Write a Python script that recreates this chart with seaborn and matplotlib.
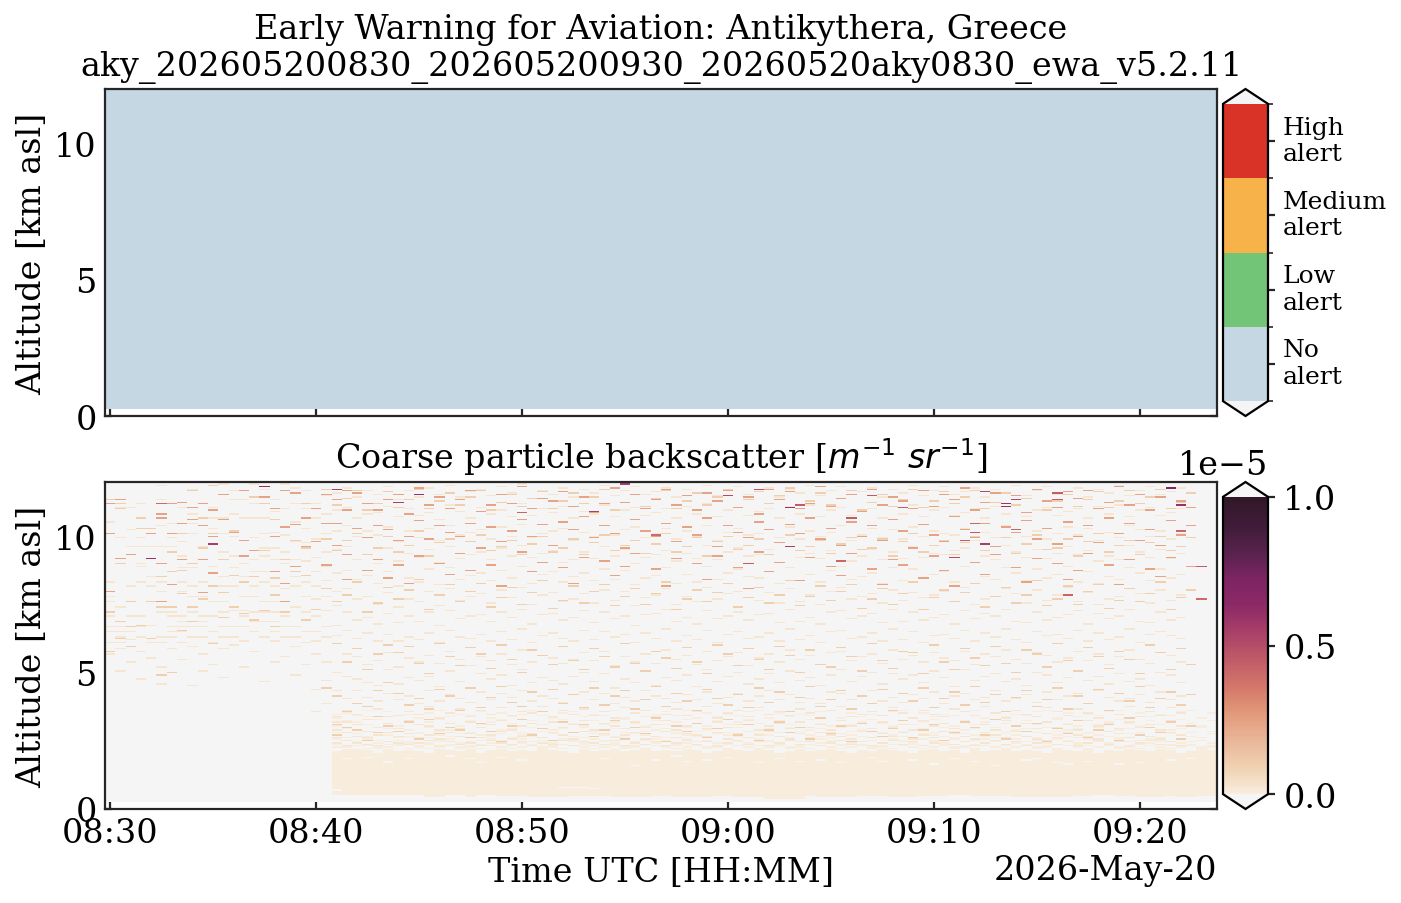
#Early warning curtain plots: alert levels and coarse particle backscatter
#The speckle lists are hand estimates from zooms of the picture (row index = 48 m bins).
#Peaks and the first 22 columns follow the picture most closely. For the other columns the
#density by altitude is matched, but single positions are approximate, not read cell by cell.

#Dependencies
import numpy as np
import pandas as pd
import matplotlib
matplotlib.use("Agg")
import matplotlib.pyplot as plt
from matplotlib.colors import LinearSegmentedColormap, ListedColormap
from matplotlib.transforms import ScaledTranslation
import seaborn as sns

n_rows = 250
n_cols = 108
first_row = 5 #nothing is measured below this bin

tick_labels = ["08:30", "08:40", "08:50", "09:00", "09:10", "09:20"]
tick_minutes = [0, 10, 20, 30, 40, 50]
alert_labels = ["No\nalert", "Low\nalert", "Medium\nalert", "High\nalert"]
alert_colors = ["#c5d7e3", "#72c476", "#f7b24a", "#d93226"]

#Values of the speckle classes, in m-1 sr-1
faint_value = 0.025e-5
light_value = 0.1e-5
mid_value = 0.24e-5

#Aerosol layer seen from column 22 on: top and bottom bin per column
base_start = 22
base_top = [44, 46, 46, 45, 43, 46, 44, 45, 44, 43, 46, 45, 44, 46, 43, 45, 46, 44, 45, 44, 46, 45, 44, 43,
            46, 44, 45, 46, 44, 45, 46, 44, 45, 44, 46, 45, 43, 44, 46, 45, 44, 46, 45, 43, 44, 46, 44, 45,
            46, 44, 43, 45, 44, 46, 45, 44, 43, 45, 46, 44, 45, 43, 46, 44, 45, 46, 44, 45, 44, 43, 46, 45,
            44, 46, 43, 45, 44, 46, 45, 44, 46, 45, 43, 44, 46, 45]
base_bottom = [11, 11, 11, 11, 11, 11, 11, 11, 11, 9, 9, 11, 11, 9, 11, 11, 10, 10, 10, 9, 9, 9, 9, 10,
               10, 10, 10, 9, 9, 9, 9, 10, 10, 9, 9, 9, 9, 10, 10, 9, 9, 9, 8, 8, 8, 8, 10, 9,
               9, 9, 9, 10, 10, 10, 9, 9, 9, 10, 10, 10, 11, 11, 10, 10, 10, 10, 9, 9, 9, 9, 9, 9,
               10, 10, 11, 11, 10, 10, 9, 9, 9, 10, 9, 9, 10, 10]
#Holes in the layer: column, bin
base_gaps = [(22, 14), (23, 38), (25, 39), (27, 36), (27, 35), (29, 38), (33, 40), (35, 38), (36, 35), (38, 39),
             (40, 37), (44, 16), (45, 16), (46, 16), (47, 15), (48, 38), (51, 33), (53, 37), (55, 40), (56, 36),
             (58, 37), (60, 39), (63, 35), (65, 38), (67, 36), (69, 37), (71, 35), (74, 39), (75, 36), (78, 37),
             (80, 34), (82, 38), (84, 36), (86, 33), (89, 37), (90, 38), (92, 35), (93, 34), (95, 36), (98, 34),
             (100, 35), (103, 37), (105, 38)]

#Dense pale returns just above the layer, from column 22 on
fringe_rows = [
    [47, 49, 53, 58, 63, 69, 72], [47, 48, 52, 54, 61, 67, 73], [48, 50, 51, 57, 60, 66, 71], [46, 48, 53, 55, 59, 64, 70, 75],
    [46, 47, 50, 52, 58, 62, 68], [47, 49, 51, 56, 61, 65, 74], [48, 49, 52, 54, 59, 63, 71], [46, 50, 51, 55, 60, 67, 72],
    [47, 48, 53, 57, 58, 64, 69], [46, 49, 50, 54, 62, 66, 73], [47, 51, 52, 56, 59, 68, 75], [48, 49, 53, 55, 60, 65, 70],
    [46, 47, 50, 57, 61, 63, 72], [47, 48, 51, 54, 58, 67, 71], [46, 49, 52, 56, 62, 64, 74], [48, 50, 53, 55, 59, 66, 69],
    [47, 51, 52, 57, 60, 68, 73], [46, 48, 49, 54, 61, 65, 70], [47, 50, 53, 56, 58, 63, 72], [48, 49, 51, 55, 62, 67, 75],
    [46, 47, 52, 54, 59, 64, 71], [47, 48, 50, 57, 60, 66, 69], [46, 49, 53, 56, 61, 68, 73], [48, 51, 52, 55, 58, 65, 74],
    [47, 49, 50, 54, 62, 63, 70], [46, 48, 53, 57, 59, 67, 72], [47, 51, 52, 56, 60, 64, 71], [48, 49, 50, 55, 61, 66, 75],
    [46, 47, 53, 54, 58, 68, 69], [47, 48, 51, 57, 62, 65, 73], [46, 49, 52, 56, 59, 63, 70], [48, 50, 53, 55, 60, 67, 72],
    [47, 51, 52, 54, 61, 64, 74], [46, 48, 49, 57, 58, 66, 71], [47, 50, 53, 56, 62, 68, 75], [48, 49, 51, 55, 59, 65, 69],
    [46, 47, 52, 54, 60, 63, 73], [47, 48, 50, 57, 61, 67, 70], [46, 49, 53, 56, 58, 64, 72], [48, 51, 52, 55, 62, 66, 71],
    [47, 49, 50, 54, 59, 68, 74], [46, 48, 53, 57, 60, 65, 75], [47, 51, 52, 56, 61, 63, 69], [48, 49, 50, 55, 58, 67, 73],
    [46, 47, 53, 54, 62, 64, 70], [47, 48, 51, 57, 59, 66, 72], [46, 49, 52, 56, 60, 68, 71], [48, 50, 53, 55, 61, 65, 74],
    [47, 51, 52, 54, 58, 63, 75], [46, 48, 49, 57, 62, 67, 69], [47, 50, 53, 56, 59, 64, 73], [48, 49, 51, 55, 60, 66, 70],
    [46, 47, 52, 54, 61, 68, 72], [47, 48, 50, 57, 58, 65, 71], [46, 49, 53, 56, 62, 63, 74], [48, 51, 52, 55, 59, 67, 75],
    [47, 49, 50, 54, 60, 64, 69], [46, 48, 53, 57, 61, 66, 73], [47, 51, 52, 56, 58, 68, 70], [48, 49, 50, 55, 62, 65, 72],
    [46, 47, 53, 54, 59, 63, 71], [47, 48, 51, 57, 60, 67, 74], [46, 49, 52, 56, 61, 64, 75], [48, 50, 53, 55, 58, 66, 69],
    [47, 51, 52, 54, 62, 68, 73], [46, 48, 49, 57, 59, 65, 70], [47, 50, 53, 56, 60, 63, 72], [48, 49, 51, 55, 61, 67, 71],
    [46, 47, 52, 54, 58, 64, 74], [47, 48, 50, 57, 62, 66, 75], [46, 49, 53, 56, 59, 68, 69], [48, 51, 52, 55, 60, 65, 73],
    [47, 49, 50, 54, 61, 63, 70], [46, 48, 53, 57, 58, 67, 72], [47, 51, 52, 56, 62, 64, 71], [48, 49, 50, 55, 59, 66, 74],
    [46, 47, 53, 54, 60, 68, 75], [47, 48, 51, 57, 61, 65, 69], [46, 49, 52, 56, 58, 63, 73], [48, 50, 53, 55, 62, 67, 70],
    [47, 51, 52, 54, 59, 64, 72], [46, 48, 49, 57, 60, 66, 71], [47, 50, 53, 56, 61, 68, 74], [48, 49, 51, 55, 58, 65, 75],
    [46, 47, 52, 54, 62, 63, 69], [47, 48, 50, 57, 59, 67, 73],
]

faint_rows = [
    [219, 173, 162, 158, 150, 147, 139, 135, 127, 118], [230, 207, 154, 139, 135, 131, 127, 122, 105], [230, 213, 200, 170, 147, 139, 135, 129, 112],
    [233, 207, 200, 187, 185, 173, 147, 139, 131, 120, 99], [214, 200, 177, 170, 158, 140, 127, 115], [247, 236, 216, 200, 173, 166, 150, 127, 131, 108, 95],
    [218, 200, 207, 150, 147, 139, 135, 131, 122], [230, 204, 193, 184, 173, 166, 147, 143, 139, 135, 127, 114], [244, 225, 218, 210, 184, 170, 162, 150, 139, 131, 124, 94],
    [233, 216, 200, 173, 162, 147, 143, 139, 131, 118, 105], [230, 222, 214, 185, 170, 158, 147, 135, 127, 110], [248, 222, 210, 196, 177, 170, 158, 150, 139, 131, 122, 100],
    [243, 236, 225, 208, 193, 184, 170, 151, 139, 131, 125], [236, 222, 205, 187, 177, 162, 151, 147, 139, 128, 108], [248, 233, 222, 207, 190, 181, 170, 162, 150, 143, 135, 120],
    [244, 222, 210, 199, 193, 181, 173, 158, 150, 143, 131, 97], [236, 227, 211, 199, 190, 170, 158, 150, 143, 135, 128, 112], [248, 229, 209, 196, 187, 168, 158, 147, 139, 131, 116],
    [245, 233, 219, 204, 190, 177, 170, 154, 139, 131, 124, 102], [243, 229, 214, 203, 189, 173, 162, 150, 135, 127, 110], [233, 222, 206, 192, 181, 170, 160, 147, 135, 128, 118, 91, 74],
    [239, 225, 210, 196, 185, 174, 162, 151, 139, 131, 112, 98, 80],
    [241, 228, 212, 198, 180, 166, 155, 140, 132, 104, 90, 70, 66, 60, 54, 50], [245, 230, 216, 200, 182, 168, 150, 136, 118, 101, 84, 75, 66, 58, 52, 48], [238, 222, 208, 190, 175, 160, 144, 130, 116, 99, 90, 72, 64, 55, 50],
    [243, 225, 212, 194, 178, 162, 146, 134, 110, 96, 85, 68, 59, 54, 49], [240, 226, 209, 187, 172, 156, 141, 128, 113, 94, 82, 76, 62, 56, 48], [246, 231, 215, 199, 181, 165, 149, 133, 119, 106, 88, 70, 65, 58, 51],
    [236, 223, 204, 189, 170, 154, 142, 128, 108, 95, 83, 71, 61, 55, 50], [243, 229, 212, 195, 176, 160, 147, 131, 115, 100, 86, 74, 67, 57, 49], [238, 224, 207, 192, 173, 158, 143, 129, 112, 98, 80, 72, 64, 54, 50],
    [245, 226, 214, 198, 183, 166, 150, 134, 117, 101, 90, 78, 63, 56, 52], [240, 221, 205, 188, 171, 155, 140, 127, 111, 93, 82, 69, 60, 53, 48], [247, 232, 216, 200, 184, 168, 151, 136, 120, 105, 87, 73, 65, 58, 51],
    [238, 227, 209, 191, 175, 159, 145, 131, 114, 97, 84, 76, 61, 55, 49], [242, 222, 211, 194, 178, 162, 147, 130, 109, 92, 81, 70, 66, 57, 50], [244, 230, 213, 196, 180, 164, 148, 133, 116, 103, 89, 75, 62, 54, 48],
    [239, 225, 206, 190, 174, 157, 143, 128, 113, 99, 83, 72, 64, 56, 52], [246, 228, 215, 199, 182, 167, 150, 135, 118, 102, 88, 77, 67, 59, 50], [241, 223, 208, 193, 176, 161, 146, 129, 110, 94, 85, 71, 60, 53, 49],
    [248, 233, 217, 201, 185, 169, 152, 137, 121, 106, 90, 74, 63, 55, 51], [237, 224, 207, 192, 172, 156, 141, 127, 112, 96, 82, 73, 65, 57, 48], [243, 229, 210, 195, 179, 163, 148, 132, 117, 100, 86, 78, 61, 54, 50],
    [240, 226, 212, 197, 181, 165, 149, 134, 115, 98, 84, 70, 66, 58, 49], [245, 231, 214, 188, 173, 158, 144, 130, 111, 95, 81, 75, 62, 56, 52], [238, 222, 205, 190, 177, 160, 146, 128, 114, 101, 87, 72, 64, 53, 48],
    [244, 227, 211, 196, 180, 164, 151, 136, 119, 104, 89, 76, 67, 59, 51], [241, 225, 208, 191, 174, 157, 142, 129, 113, 97, 83, 71, 60, 55, 50], [247, 232, 216, 200, 183, 167, 150, 135, 120, 103, 88, 74, 65, 57, 49],
    [239, 223, 209, 193, 175, 159, 145, 131, 109, 92, 80, 69, 63, 54, 52], [243, 228, 213, 198, 182, 166, 147, 133, 116, 99, 85, 77, 61, 56, 48], [246, 230, 215, 187, 171, 155, 140, 127, 112, 96, 82, 73, 66, 58, 50],
    [240, 224, 207, 192, 176, 161, 148, 134, 118, 105, 90, 75, 62, 53, 49], [242, 226, 210, 194, 178, 163, 149, 130, 111, 94, 86, 70, 64, 55, 51], [245, 229, 214, 197, 184, 168, 152, 137, 121, 100, 84, 72, 67, 59, 48],
    [238, 222, 206, 189, 172, 156, 143, 128, 114, 98, 81, 76, 60, 54, 50], [244, 231, 212, 195, 179, 162, 146, 132, 117, 102, 87, 71, 63, 57, 52], [241, 225, 208, 191, 173, 158, 141, 129, 110, 93, 83, 74, 65, 56, 49],
    [247, 233, 216, 201, 185, 169, 151, 136, 120, 106, 89, 78, 61, 55, 51], [239, 223, 205, 190, 175, 160, 145, 127, 113, 97, 80, 69, 66, 58, 48], [243, 228, 211, 196, 180, 164, 147, 133, 116, 101, 85, 73, 62, 53, 50],
    [246, 230, 214, 199, 183, 166, 150, 135, 119, 104, 88, 75, 64, 57, 52], [240, 224, 209, 193, 177, 161, 144, 130, 109, 95, 82, 70, 67, 54, 49], [242, 227, 210, 194, 176, 159, 148, 131, 115, 99, 86, 77, 60, 56, 51],
    [245, 229, 213, 198, 181, 165, 149, 134, 118, 103, 90, 72, 63, 59, 48], [238, 222, 207, 188, 172, 157, 142, 128, 112, 96, 83, 74, 65, 55, 50], [244, 231, 215, 200, 184, 168, 152, 137, 121, 105, 87, 71, 61, 53, 52],
    [241, 225, 206, 192, 174, 158, 143, 129, 114, 98, 81, 76, 66, 57, 49], [247, 232, 212, 195, 179, 163, 146, 132, 117, 100, 84, 73, 62, 54, 51], [239, 223, 208, 191, 173, 156, 141, 127, 110, 94, 80, 69, 64, 58, 48],
    [243, 228, 211, 197, 182, 166, 150, 135, 119, 102, 89, 75, 60, 56, 50], [246, 230, 216, 201, 185, 169, 151, 136, 120, 106, 88, 78, 67, 55, 52], [240, 224, 205, 189, 175, 160, 145, 130, 113, 97, 83, 70, 63, 53, 49],
    [242, 227, 209, 193, 177, 162, 147, 131, 116, 101, 86, 72, 65, 59, 51], [245, 229, 214, 198, 180, 164, 149, 134, 118, 104, 90, 74, 61, 54, 48], [238, 222, 207, 190, 172, 157, 142, 128, 111, 95, 82, 71, 66, 57, 50],
    [244, 231, 213, 196, 184, 167, 152, 137, 121, 103, 85, 77, 62, 55, 52], [241, 225, 206, 191, 174, 159, 143, 129, 114, 99, 81, 73, 64, 58, 49], [247, 232, 215, 200, 183, 165, 150, 135, 117, 102, 87, 69, 60, 53, 51],
    [239, 223, 208, 192, 176, 161, 144, 127, 112, 96, 84, 75, 67, 56, 48], [243, 228, 212, 195, 179, 163, 146, 132, 119, 105, 89, 72, 63, 54, 50], [246, 230, 210, 194, 181, 166, 148, 133, 115, 100, 80, 70, 65, 59, 52],
    [240, 224, 209, 197, 173, 158, 141, 130, 113, 93, 86, 76, 61, 57, 49], [242, 226, 214, 199, 185, 169, 151, 136, 120, 106, 88, 74, 66, 55, 51], [245, 229, 205, 188, 172, 156, 145, 128, 110, 98, 83, 71, 62, 53, 48],
    [238, 222, 211, 193, 177, 160, 149, 134, 118, 101, 85, 78, 64, 58, 50], [244, 231, 207, 190, 175, 162, 147, 131, 116, 103, 90, 73, 60, 56, 52], [241, 225, 216, 201, 184, 168, 152, 137, 121, 97, 82, 69, 67, 54, 49],
    [247, 232, 213, 196, 180, 164, 143, 129, 114, 99, 84, 75, 63, 59, 51], [239, 223, 208, 192, 174, 157, 142, 127, 111, 94, 87, 72, 65, 55, 48], [243, 228, 212, 198, 183, 167, 150, 135, 119, 104, 81, 70, 61, 53, 50],
    [246, 230, 206, 191, 176, 159, 144, 132, 117, 102, 89, 77, 66, 57, 52], [240, 224, 210, 195, 179, 163, 146, 133, 112, 96, 83, 74, 62, 54, 49], [242, 227, 215, 200, 185, 169, 148, 130, 115, 100, 86, 71, 64, 58, 51],
    [245, 229, 209, 194, 173, 158, 151, 136, 120, 105, 88, 76, 60, 56, 48], [238, 222, 214, 197, 181, 165, 141, 128, 113, 98, 80, 73, 67, 55, 50], [244, 231, 205, 189, 172, 156, 149, 134, 118, 101, 90, 69, 63, 53, 52],
    [241, 225, 211, 193, 177, 160, 145, 129, 110, 95, 85, 75, 65, 59, 49], [247, 232, 207, 190, 175, 162, 147, 131, 116, 103, 82, 72, 61, 57, 51], [239, 223, 216, 201, 184, 168, 152, 137, 121, 97, 84, 78, 66, 54, 48],
    [243, 228, 213, 196, 180, 164, 143, 127, 114, 99, 87, 70, 62, 56, 50], [246, 230, 208, 192, 174, 157, 142, 133, 111, 94, 81, 74, 64, 55, 52], [240, 224, 212, 198, 183, 167, 150, 135, 119, 104, 89, 71, 60, 53, 49],
    [242, 226, 206, 191, 176, 159, 144, 132, 117, 102, 83, 77, 67, 58, 51], [245, 229, 210, 195, 179, 163, 146, 130, 112, 96, 86, 73, 63, 56, 48],
]

light_rows = [
    [236, 210, 166, 150, 120], [233, 187, 229, 143, 130], [194, 158, 139, 124], [222, 214, 140], [214, 158, 130], [187, 177, 154, 102],
    [196, 181, 154, 104], [210, 182, 164, 136], [243, 187, 154, 143], [222, 199, 160], [247, 210, 170, 126], [190, 165, 146],
    [212, 178, 154], [205, 173, 149], [238, 177, 144], [233, 197, 151], [221, 176, 163, 139], [243, 190, 150], [241, 205, 181], [233, 199, 178, 144], [229, 204, 152], [244, 206, 168, 92],
    [232, 197, 158, 126, 86, 64, 56], [237, 205, 163, 112, 74, 62], [243, 210, 173, 122, 80, 60], [228, 194, 150, 106, 78, 52], [233, 199, 157, 118, 90, 70, 58], [242, 208, 169, 125, 96, 63],
    [230, 196, 160, 119, 88, 59], [236, 201, 167, 124, 79, 66], [244, 212, 175, 111, 84, 53], [229, 193, 152, 103, 76, 68], [235, 203, 163, 126, 91, 57], [241, 206, 171, 116, 86, 62],
    [232, 195, 158, 109, 75, 60], [238, 204, 166, 123, 92, 54], [243, 209, 172, 118, 77, 65], [228, 197, 154, 107, 85, 59], [234, 200, 161, 125, 93, 51], [240, 205, 169, 114, 81, 63],
    [231, 194, 156, 104, 78, 68], [237, 202, 165, 121, 89, 56], [242, 208, 174, 117, 74, 61], [229, 196, 153, 110, 91, 52], [235, 199, 159, 124, 80, 66], [241, 206, 170, 113, 87, 58],
    [233, 194, 157, 106, 77, 64], [238, 203, 166, 122, 92, 55], [244, 209, 171, 116, 79, 60], [228, 197, 155, 108, 86, 67], [234, 201, 162, 126, 90, 53], [240, 205, 168, 111, 76, 62],
    [231, 195, 156, 105, 83, 57], [237, 202, 164, 120, 93, 69], [243, 210, 173, 115, 78, 51], [229, 196, 152, 107, 88, 63], [235, 200, 160, 123, 82, 59], [241, 207, 167, 112, 75, 65],
    [232, 193, 158, 103, 91, 54], [238, 204, 165, 125, 84, 61], [244, 208, 172, 118, 79, 68], [230, 198, 154, 109, 87, 56], [236, 201, 161, 122, 77, 64], [242, 206, 169, 114, 92, 52],
    [233, 194, 157, 106, 81, 60], [239, 203, 163, 124, 89, 66], [245, 209, 174, 117, 74, 58], [229, 197, 155, 104, 85, 62], [235, 200, 162, 121, 93, 53], [241, 205, 170, 110, 78, 69],
    [232, 195, 159, 108, 83, 57], [237, 202, 166, 123, 90, 63], [243, 207, 171, 116, 76, 51], [228, 198, 153, 105, 86, 65], [234, 199, 160, 126, 80, 59], [240, 206, 168, 113, 91, 55],
    [231, 193, 156, 107, 75, 61], [236, 204, 164, 120, 88, 67], [244, 210, 173, 119, 82, 54], [230, 196, 152, 103, 92, 60], [235, 201, 161, 125, 77, 64], [242, 205, 167, 112, 84, 52],
    [233, 194, 158, 106, 89, 58], [238, 203, 165, 122, 79, 66], [243, 208, 172, 115, 93, 62], [229, 197, 154, 109, 81, 56], [234, 200, 162, 124, 87, 68], [241, 207, 169, 111, 74, 53],
    [232, 195, 157, 104, 85, 63], [237, 202, 163, 121, 90, 59], [244, 209, 174, 118, 78, 65], [228, 198, 155, 108, 83, 51], [235, 199, 160, 126, 92, 61], [240, 206, 170, 113, 76, 57],
    [231, 193, 156, 105, 86, 67], [236, 204, 166, 123, 80, 54], [242, 210, 171, 116, 91, 60], [230, 196, 153, 107, 75, 64], [235, 201, 159, 120, 88, 52], [243, 205, 168, 114, 82, 69],
    [233, 194, 158, 103, 93, 56], [238, 203, 164, 125, 77, 62], [244, 208, 173, 119, 84, 58], [229, 197, 152, 106, 89, 66], [234, 200, 161, 122, 79, 53], [241, 207, 167, 110, 87, 63],
]

mid_rows = [
    [233, 210, 166], [236, 191], [194], [], [210], [222, 225, 187, 158], [233, 210, 171],
    [234, 218, 190], [230, 221], [233, 216, 190, 165], [228, 208, 180], [240, 221], [211],
    [243, 205, 193], [197], [238], [229, 208, 181], [243, 215, 172, 158], [241, 217, 185], [222, 200], [229, 204], [240, 218, 186],
    [236, 218, 201], [243, 228, 194, 175], [241, 214], [233, 207, 182], [228, 216, 190], [236, 213, 176],
    [240, 205, 186], [225, 208, 172], [245, 220, 193], [232, 206], [238, 216, 187], [229, 211, 179],
    [236, 208, 195], [243, 218, 182], [227, 199], [232, 215, 186], [240, 204, 170], [233, 212],
    [246, 221, 196], [229, 208, 181], [237, 217, 188], [235, 201], [242, 219, 184], [231, 213, 172],
    [238, 223, 192], [226, 207], [233, 216, 189], [245, 210, 178], [234, 199, 185], [240, 221, 195],
    [229, 212], [236, 208, 183], [244, 218, 170], [232, 204, 191], [239, 215], [228, 209, 187],
    [241, 222, 175], [235, 200, 193], [243, 216], [230, 211, 184], [238, 207, 168], [225, 219, 196],
    [244, 213, 181], [236, 203, 188], [242, 217], [229, 210, 174], [233, 222, 192], [246, 206],
    [231, 214, 185], [237, 201, 178], [240, 219, 195], [227, 208], [244, 216, 183], [232, 205, 171],
    [238, 221, 190], [235, 212, 186], [229, 199], [243, 217, 176], [231, 209, 193], [240, 204, 182],
    [236, 223, 170], [245, 213], [228, 207, 188], [234, 218, 179], [241, 200, 194], [233, 215],
    [239, 211, 184], [226, 220, 173], [244, 206, 191], [235, 214], [230, 202, 187], [242, 219, 175],
    [237, 208, 182], [243, 216, 195], [229, 203], [234, 222, 186], [246, 210, 171], [232, 218, 190],
    [240, 205], [228, 213, 183], [238, 201, 177], [245, 220, 192], [235, 209], [230, 216, 185],
]

#Strongest single returns: column, bin, value
peak_specks = [(15, 246, 0.62e-5), (4, 191, 0.6e-5), (22, 244, 0.55e-5), (5, 233, 0.4e-5), (30, 240, 0.6e-5),
               (28, 234, 0.55e-5), (10, 202, 0.55e-5), (50, 248, 0.55e-5), (47, 227, 0.55e-5), (40, 226, 0.42e-5),
               (63, 244, 0.5e-5), (62, 249, 0.45e-5), (60, 239, 0.5e-5), (66, 230, 0.6e-5), (67, 232, 0.45e-5),
               (66, 200, 0.55e-5), (62, 187, 0.45e-5), (53, 209, 0.4e-5), (72, 222, 0.45e-5), (71, 189, 0.42e-5),
               (74, 239, 0.45e-5), (77, 230, 0.45e-5), (84, 218, 0.42e-5), (84, 211, 0.45e-5), (83, 205, 0.45e-5),
               (82, 192, 0.5e-5), (85, 202, 0.55e-5), (85, 242, 0.5e-5), (88, 236, 0.5e-5), (87, 233, 0.6e-5),
               (87, 231, 0.6e-5), (88, 213, 0.42e-5), (92, 241, 0.45e-5), (92, 236, 0.45e-5), (103, 245, 0.7e-5),
               (104, 232, 0.6e-5), (104, 212, 0.42e-5), (106, 185, 0.45e-5), (93, 163, 0.42e-5), (106, 160, 0.4e-5)]

#Colours of the backscatter scale, from the colour bar
backscatter_colors = ["#f8ecdc", "#f0d0b0", "#e9b598", "#e29878", "#d4766a", "#bf5a68",
                      "#a94068", "#8c2a66", "#7d2463", "#57224c", "#3f1c38", "#301828"]

#Building the backscatter curtain
backscatter = np.full((n_rows, n_cols), -1.0)
for col, (top, bottom) in enumerate(zip(base_top, base_bottom), start=base_start):
    backscatter[bottom:top, col] = 0.0
for col, rows in enumerate(fringe_rows, start=base_start):
    backscatter[rows, col] = 0.0
for tier, value in [(faint_rows, faint_value), (light_rows, light_value), (mid_rows, mid_value)]:
    for col, rows in enumerate(tier):
        backscatter[rows, col] = value
for col, row in base_gaps:
    backscatter[row, col] = -1.0
for col, row, value in peak_specks:
    backscatter[row, col] = value
backscatter[:first_row, :] = np.nan
backscatter_df = pd.DataFrame(backscatter)

#Alert curtain: no alert anywhere
alerts = np.zeros((n_rows, n_cols))
alerts[:first_row, :] = np.nan
alerts_df = pd.DataFrame(alerts)

sns.set_style("ticks", {"font.family": "serif", "font.serif": ["DejaVu Serif"],
                        "axes.edgecolor": "#262626", "xtick.color": "#262626", "ytick.color": "#262626",
                        "text.color": "black", "axes.labelcolor": "black"})
plt.rcParams["mathtext.fontset"] = "dejavusans"

px_w, px_h = 1401, 904
fig = plt.figure(figsize=(px_w / 200, px_h / 200), dpi=200)


def place(left, top, right, bottom):
    return fig.add_axes([left / px_w, 1 - bottom / px_h, (right - left) / px_w, (bottom - top) / px_h])


ax1 = place(105, 90, 1217, 417)
ax2 = place(105, 483, 1217, 810)
cax1 = place(1223, 90, 1268, 417)
cax2 = place(1223, 483, 1268, 810)

alert_cmap = ListedColormap(alert_colors).with_extremes(under="whitesmoke", over="whitesmoke")
sns.heatmap(alerts_df, ax=ax1, cbar_ax=cax1, cmap=alert_cmap, vmin=-0.5, vmax=3.5,
            xticklabels=False, yticklabels=False, cbar_kws={"extend": "both"})

back_cmap = LinearSegmentedColormap.from_list("backscatter", backscatter_colors, N=128)
back_cmap = back_cmap.with_extremes(under="whitesmoke", over="whitesmoke")
sns.heatmap(backscatter_df, ax=ax2, cbar_ax=cax2, cmap=back_cmap, vmin=0, vmax=1e-5,
            xticklabels=False, yticklabels=False, cbar_kws={"extend": "both", "ticks": [0, 0.5e-5, 1e-5]})

#Bins are 48 m, columns are 30 s and the first one starts 15 s before 08:30
tick_cols = [(m + 0.25) * 2 for m in tick_minutes]
km_per_row = 0.048

for ax in (ax1, ax2):
    ax.set_ylim(0, n_rows)
    ax.set_xlim(0, n_cols)
    ax.set_xticks(tick_cols)
    ax.set_yticks([km / km_per_row for km in (0, 5, 10)])
    ax.set_yticks([km / km_per_row for km in (1, 2, 3, 4, 6, 7, 8, 9, 11)], minor=True)
    ax.set_yticklabels(["0", "5", "10"], rotation=0, fontsize=12)
    ax.tick_params(which="major", direction="in", top=True, right=True, length=2.5, width=0.8, pad=3,
                   labelcolor="black")
    ax.tick_params(which="minor", direction="in", left=True, right=True, length=1.3, width=0.6)
    ax.set_ylabel("Altitude [km asl]", fontsize=12, labelpad=2)
    for side in ax.spines.values():
        side.set_visible(True)
        side.set_linewidth(0.8)

ax1.set_xticklabels([])
ax2.set_xticklabels(tick_labels, rotation=0, fontsize=12)
ax2.set_xlabel("Time UTC [HH:MM]", fontsize=12, labelpad=2.5)
ax1.set_title("Early Warning for Aviation: Antikythera, Greece\naky_202605200830_202605200930_20260520aky0830_ewa_v5.2.11",
              fontsize=12, pad=5)
ax2.set_title("Coarse particle backscatter [$m^{-1}$ $sr^{-1}$]", fontsize=12, pad=5)
ax2.text(1217 / px_w, 1 - 880 / px_h, "2026-May-20", fontsize=12, ha="right", va="baseline",
         transform=fig.transFigure)

#Colour bars
cb1 = ax1.collections[0].colorbar
cb1.set_ticks([0, 1, 2, 3], labels=alert_labels)
cb1.set_ticks([-0.5, 0.5, 1.5, 2.5, 3.5], minor=True)
cb1.ax.tick_params(which="major", length=2.5, width=0.8, labelsize=9, pad=2.7, direction="out", labelcolor="black")
cb1.ax.tick_params(which="minor", length=1.8, width=0.6, direction="out")
cb1.outline.set_linewidth(0.8)
cb1.outline.set_edgecolor("black")
#The two-line labels sit a little above their ticks
for label in cb1.ax.get_yticklabels():
    label.set_transform(label.get_transform() + ScaledTranslation(0, 5 / 200, fig.dpi_scale_trans))

cb2 = ax2.collections[0].colorbar
cb2.ax.tick_params(which="major", length=2.5, width=0.8, labelsize=12, pad=3, direction="out", labelcolor="black")
cb2.ax.tick_params(which="minor", length=0)
cb2.outline.set_linewidth(0.8)
cb2.outline.set_edgecolor("black")
cb2.ax.yaxis.get_offset_text().set_fontsize(12)
cb2.ax.yaxis.get_offset_text().set_color("black")

plt.savefig("out.png", dpi=200)
